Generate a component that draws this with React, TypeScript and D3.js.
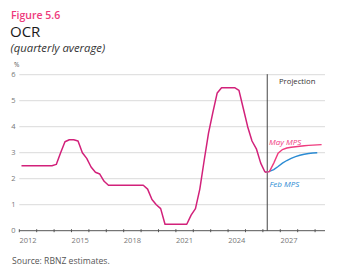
import React from "react";
import * as d3 from "d3";

// Quarterly average OCR, 2012Q1 .. 2026Q1
const historyStart = 2012;
const historyValues = [
  2.5, 2.5, 2.5, 2.5,
  2.5, 2.5, 2.5, 2.5,
  2.55, 3.0, 3.42, 3.5,
  3.5, 3.45, 3.0, 2.78,
  2.45, 2.25, 2.18, 1.9,
  1.75, 1.75, 1.75, 1.75,
  1.75, 1.75, 1.75, 1.75,
  1.75, 1.6, 1.2, 1.0,
  0.85, 0.25, 0.25, 0.25,
  0.25, 0.25, 0.25, 0.6,
  0.85, 1.6, 2.7, 3.75,
  4.55, 5.3, 5.5, 5.5,
  5.5, 5.5, 5.4, 4.7,
  4.0, 3.45, 3.15, 2.6,
  2.25,
];
// Projections from 2026Q1
const projStart = 2026;
const mayValues = [2.25, 2.27, 2.6, 2.98, 3.12, 3.18, 3.21, 3.23, 3.25, 3.27, 3.28, 3.29, 3.3, 3.31];
const febValues = [2.25, 2.28, 2.35, 2.47, 2.6, 2.7, 2.78, 2.85, 2.9, 2.94, 2.97, 2.99, 3.0];
const projectionStartYear = 2026.25;
const yTicks = [0, 1, 2, 3, 4, 5, 6];
const xTickYears = d3.range(2012, 2030);
const xLabelYears = [2012, 2015, 2018, 2021, 2024, 2027];

const FONT = "'Open Sans', Lato, sans-serif";

function toPoints(start: number, vals: number[]) {
  return vals.map((v, i) => ({ t: start + i / 4 + 0.125, v }));
}

export default function App() {
  const W = 340, H = 278;
  const left = 19.3, right = 325;
  const x = d3.scaleLinear().domain([2012, 2029.57]).range([left, right]);
  const y = d3.scaleLinear().domain([0, 6]).range([230.7, 74.7]);
  const line = d3
    .line<{ t: number; v: number }>()
    .x((d) => x(d.t))
    .y((d) => y(d.v));

  const hist = toPoints(historyStart, historyValues);
  const may = toPoints(projStart, mayValues);
  const feb = toPoints(projStart, febValues);

  return (
    <svg width={W} height={H} style={{ position: "absolute", left: 0, top: 0, background: "#fff" }}>
      <text x={11} y={19} fontFamily={FONT} fontSize={10.5} fontWeight={600} fill="#ee3a7c">Figure 5.6</text>
      <text x={10} y={36.7} fontFamily={FONT} fontSize={15} fontWeight={500} fill="#1a1a1a">OCR</text>
      <text x={10.5} y={51.5} fontFamily={FONT} fontSize={11.3} fontStyle="italic" fill="#333">(quarterly average)</text>
      <text x={14} y={67} fontFamily={FONT} fontSize={6.5} fill="#555">%</text>

      {yTicks.map((t) => (
        <g key={t}>
          {t > 0 && (
            <line x1={left} x2={right} y1={y(t)} y2={y(t)} stroke="#dadada" strokeWidth={1} />
          )}
          <text x={15.5} y={y(t) + 2.6} textAnchor="end" fontFamily={FONT} fontSize={7.5} fill="#777">{t}</text>
        </g>
      ))}

      <line x1={left} x2={right} y1={y(0)} y2={y(0)} stroke="#555" strokeWidth={1} />
      {xTickYears.map((yr) => (
        <line key={yr} x1={x(yr)} x2={x(yr)} y1={y(0) - 1.5} y2={y(0) + 1.5} stroke="#555" strokeWidth={1} />
      ))}
      {xLabelYears.map((yr) => (
        <text key={yr} x={x(yr + 0.5)} y={243} textAnchor="middle" fontFamily={FONT} fontSize={7.5} fill="#777">{yr}</text>
      ))}

      <line x1={x(projectionStartYear)} x2={x(projectionStartYear)} y1={y(6.02)} y2={y(0)} stroke="#444" strokeWidth={1} />
      <text x={279} y={84} fontFamily={FONT} fontSize={7.7} fill="#333">Projection</text>

      <path d={line(feb) || ""} fill="none" stroke="#2b8bd3" strokeWidth={1.4} />
      <path d={line(may) || ""} fill="none" stroke="#ef3b7e" strokeWidth={1.4} />
      <path d={line(hist) || ""} fill="none" stroke="#d2217a" strokeWidth={1.5} strokeLinejoin="round" />

      <text x={269} y={145} fontFamily={FONT} fontSize={8} fontStyle="italic" fill="#ef3b7e">May MPS</text>
      <text x={269.5} y={187} fontFamily={FONT} fontSize={8} fontStyle="italic" fill="#2b8bd3">Feb MPS</text>

      <text x={12} y={263.5} fontFamily={FONT} fontSize={8.6} fill="#555">Source: RBNZ estimates.</text>
    </svg>
  );
}
